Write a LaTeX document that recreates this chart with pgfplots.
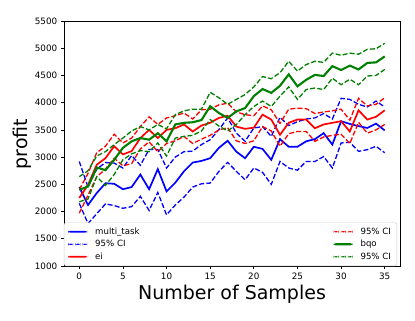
\documentclass[border=0pt]{standalone}
\usepackage{fontspec}
\setmainfont{DejaVu Sans}
\usepackage{pgfplots}
\pgfplotsset{compat=1.18}
\usepackage{pgfplotstable}

\pgfplotstableread{
x mt mthi mtlo ei eihi eilo bq bqhi bqlo
0 2450 2920 2150 2250 2400 1970 2400 2640 2180
1 2120 2450 1780 2490 2700 2300 2460 2750 2230
2 2340 2780 1960 2860 3080 2640 2810 3020 2640
3 2520 2900 2140 2980 3200 2780 2760 3100 2480
4 2510 2890 2110 3200 3420 2980 2950 3230 2680
5 2410 2800 2060 3050 3260 2840 3170 3350 2950
6 2450 3030 2090 3110 3350 2880 3290 3480 3060
7 2680 2850 2280 3350 3560 3150 3350 3560 3120
8 2410 3140 2020 3500 3740 3280 3320 3500 3100
9 2780 3140 2350 3350 3600 3100 3440 3600 3260
10 2370 2800 1940 3500 3720 3250 3290 3520 3020
11 2530 3000 2120 3530 3760 3300 3600 3780 3350
12 2740 3100 2265 3600 3810 3380 3630 3850 3380
13 2900 3110 2450 3470 3700 3250 3640 3880 3400
14 2930 3230 2510 3580 3870 3330 3680 3880 3480
15 2980 3320 2523 3630 3880 3400 3935 4190 3690
16 3170 3505 2738 3720 3960 3500 3810 4090 3570
17 3300 3720 2904 3760 3990 3540 3720 3970 3480
18 3100 3440 2738 3560 3830 3300 3840 4060 3600
19 2980 3290 2584 3520 3780 3250 3900 4150 3780
20 3190 3535 2800 3540 3760 3300 4120 4290 3930
21 3150 3560 2720 3780 3940 3560 4250 4480 4030
22 2950 3380 2500 3690 3870 3480 4180 4440 3930
23 3330 3730 2920 3410 3620 3200 4310 4550 4120
24 3190 3580 2800 3630 3880 3430 4520 4760 4290
25 3190 3650 2760 3690 3900 3470 4300 4580 4060
26 3290 3700 2920 3690 3890 3470 4420 4700 4240
27 3330 3720 2920 3530 3800 3290 4510 4760 4270
28 3440 3800 3010 3600 3830 3370 4490 4740 4240
29 3230 3700 2800 3630 3850 3400 4670 4910 4450
30 3660 4080 3260 3660 3880 3420 4600 4870 4330
31 3610 4060 3272 3470 3680 3250 4680 4910 4430
32 3570 3970 3106 3860 4080 3640 4610 4890 4330
33 3535 3920 3137 3690 3940 3440 4730 4980 4490
34 3615 4030 3198 3740 3970 3500 4740 4990 4500
35 3490 3920 3080 3860 4090 3600 4850 5090 4610
}\data

\definecolor{mplgreen}{RGB}{0,128,0}
\pgfplotsset{
  sollegend/.style={legend image code/.code={\fill[##1, draw=none, solid] (0bp,-0.85bp) rectangle (19bp,0.85bp);}},
  bqlegend/.style={legend image code/.code={\fill[##1, draw=none, solid] (0bp,-1.05bp) rectangle (19bp,1.05bp);}},
  cilegend/.style={legend image code/.code={\fill[##1, draw=none, solid] (0bp,-0.65bp) rectangle (5bp,0.65bp) (7.2bp,-0.65bp) rectangle (12.2bp,0.65bp) (14.4bp,-0.65bp) rectangle (19bp,0.65bp);}}
}

\begin{document}
\begin{tikzpicture}
\begin{axis}[name=ax, scale only axis, width=336bp, height=245bp,
  xmin=-1.75, xmax=36.75, ymin=1000, ymax=5500,
  xtick={0,5,...,35}, ytick={1000,1500,...,5500},
  xtick pos=bottom, ytick pos=left, tick align=outside,
  major tick length=3.2bp,
  tick style={black, line width=0.7bp},
  axis line style={line width=0.7bp},
  /pgf/number format/assume math mode=true,
  /pgf/number format/1000 sep={},
  tick label style={font=\fontsize{8.8bp}{10bp}\selectfont},
  xlabel={Number of Samples}, ylabel={profit},
  label style={font=\fontsize{19bp}{22bp}\selectfont},
  xlabel style={at={(axis description cs:0.5,-0.135)}, anchor=base, inner sep=0pt},
  ylabel style={at={(axis description cs:-0.125,0.498)}, anchor=center, inner sep=0pt},
  legend columns=3,
  transpose legend,
  legend cell align=left,
  legend style={at={(0,0)}, anchor=south west, draw=black!20,
    rounded corners=2bp, fill=white, inner xsep=4bp, inner ysep=3bp,
    font=\fontsize{8.6bp}{10bp}\selectfont,
    row sep=0.5bp,
    /tikz/every odd column/.style={column sep=6bp},
    /tikz/column 2/.style={column sep=192bp}},
]
\addplot[blue, line width=1.7bp, sollegend] table[x=x, y=mt] {\data};
\addlegendentry{multi\_task}
\addplot[blue, line width=1.3bp, dash pattern=on 5bp off 2.2bp, cilegend] table[x=x, y=mthi] {\data};
\addlegendentry{95\% CI}
\addplot[blue, line width=1.3bp, dash pattern=on 5bp off 2.2bp, forget plot] table[x=x, y=mtlo] {\data};
\addplot[red, line width=1.7bp, sollegend] table[x=x, y=ei] {\data};
\addlegendentry{ei}
\addplot[red, line width=1.3bp, dash pattern=on 5bp off 2.2bp, cilegend] table[x=x, y=eihi] {\data};
\addlegendentry{95\% CI}
\addplot[red, line width=1.3bp, dash pattern=on 5bp off 2.2bp, forget plot] table[x=x, y=eilo] {\data};
\addplot[mplgreen, line width=2.1bp, bqlegend] table[x=x, y=bq] {\data};
\addlegendentry{bqo}
\addplot[mplgreen, line width=1.3bp, dash pattern=on 5bp off 2.2bp, cilegend] table[x=x, y=bqhi] {\data};
\addlegendentry{95\% CI}
\addplot[mplgreen, line width=1.3bp, dash pattern=on 5bp off 2.2bp, forget plot] table[x=x, y=bqlo] {\data};
\end{axis}
\path ([shift={(-64bp,-55bp)}]ax.south west) rectangle ([shift={(15bp,21bp)}]ax.north east);
\end{tikzpicture}
\end{document}
